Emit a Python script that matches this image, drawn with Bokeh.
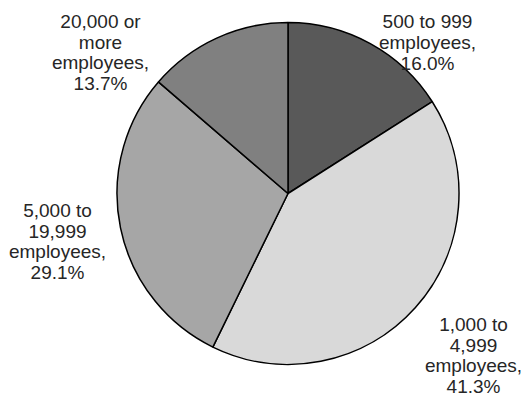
import math
from bokeh.plotting import figure
from bokeh.models import Range1d, ColumnDataSource
from bokeh.core.properties import value
from bokeh.embed import file_html
from bokeh.resources import INLINE

# Data
categories = ["500 to 999 employees", "1,000 to 4,999 employees",
              "5,000 to 19,999 employees", "20,000 or more employees"]
labels = ["500 to 999\nemployees,\n16.0%",
          "1,000 to\n4,999\nemployees,\n41.3%",
          "5,000 to\n19,999\nemployees,\n29.1%",
          "20,000 or\nmore\nemployees,\n13.7%"]
shares = [16.0, 41.3, 29.1, 13.7]
colors = ["#595959", "#d9d9d9", "#a6a6a6", "#808080"]

# Layout (screen-like data units)
W, H = 529, 398
cx, cy, R = 287.5, 205.0, 171.0
label_pos = [(427, 356), (473, 43), (57, 157), (100, 346)]

total = sum(shares)
starts, ends = [], []
acc = 0.0
for s in shares:
    a0 = math.pi / 2 - 2 * math.pi * acc / total
    acc += s
    a1 = math.pi / 2 - 2 * math.pi * acc / total
    starts.append(a0)
    ends.append(a1)

src = ColumnDataSource(dict(start=starts, end=ends, color=colors, cat=categories))

p = figure(width=W, height=H, output_backend="svg", toolbar_location=None,
           x_range=Range1d(0, W), y_range=Range1d(0, H), min_border=0)
p.axis.visible = False
p.grid.visible = False
p.outline_line_color = None
p.background_fill_color = "white"

p.wedge(x=cx, y=cy, radius=R, start_angle="start", end_angle="end",
        direction="clock", fill_color="color", line_color="black",
        line_width=1.5, source=src)

tsrc = ColumnDataSource(dict(x=[a for a, b in label_pos], y=[b for a, b in label_pos], t=labels))
p.text(x="x", y="y", text="t", source=tsrc, text_align="center",
       text_baseline="middle", text_font=value("Liberation Sans"),
       text_font_size="19px", text_color="#262626", text_line_height=0.98)

open("out.html", "w").write(file_html(p, INLINE))
